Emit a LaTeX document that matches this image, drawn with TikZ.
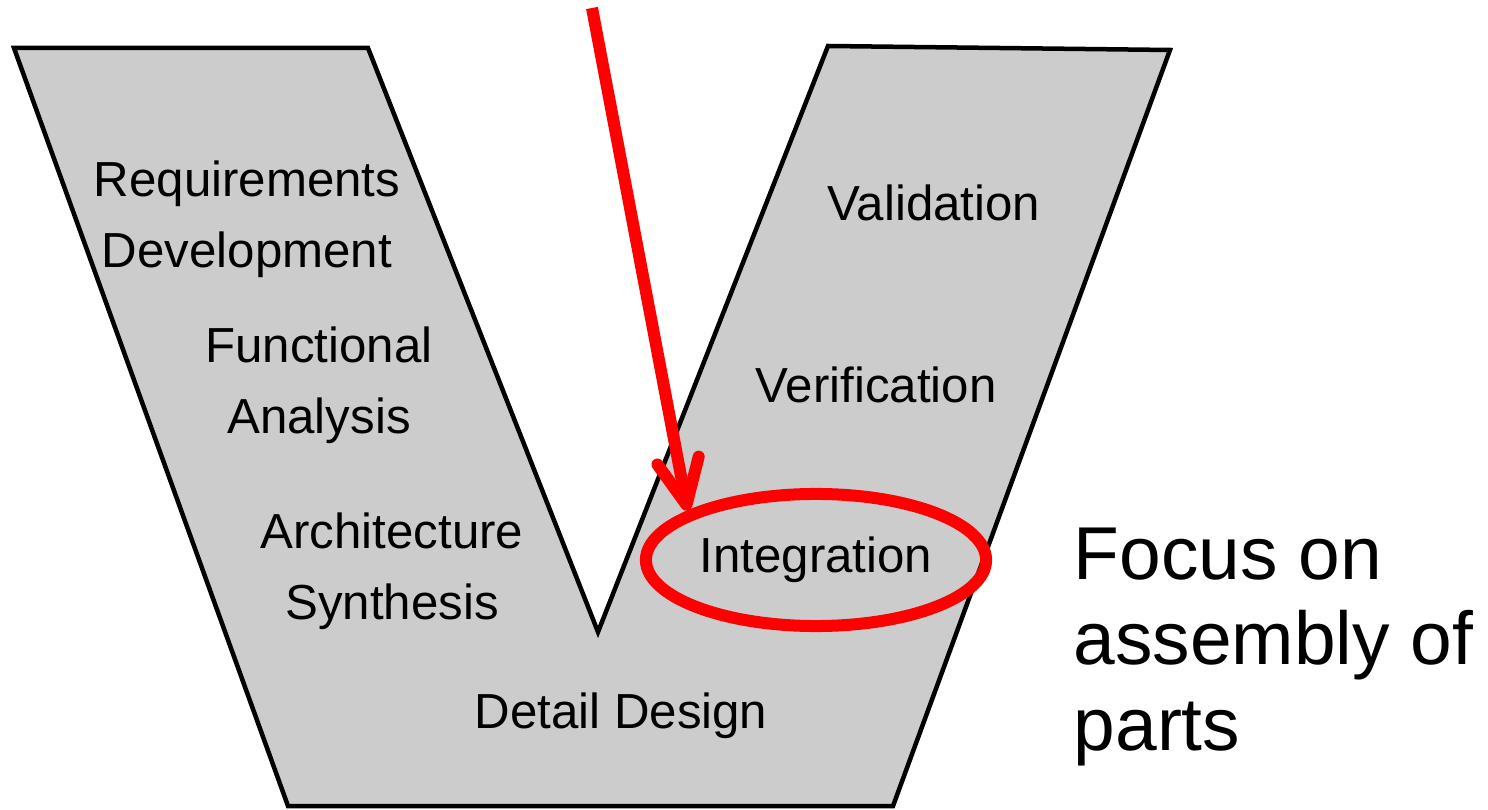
\documentclass[tikz,border=0pt]{standalone}
\usepackage{fontspec}
\setmainfont{Liberation Sans}
\usepackage{xcolor}
\usepackage{tikz}
\usetikzlibrary{arrows.meta,positioning,shapes.geometric,calc}
\definecolor{vGrey}{RGB}{204,204,204}
\definecolor{vRed}{RGB}{255,0,0}
\tikzset{
phase/.style={align=center,inner sep=0pt,font=\fontsize{14}{20.3}\selectfont},
focusring/.style={ellipse,draw=vRed,line width=0.12cm,minimum width=3.4cm,minimum height=1.32cm,inner sep=0pt,font=\fontsize{14}{20.3}\selectfont},
pointer/.style={-{Straight Barb[length=0.45cm,width=0.42cm,round]},line width=0.12cm,draw=vRed},
note/.style={align=left,inner sep=0pt,font=\fontsize{21.3}{24.4}\selectfont}
}

\begin{document}
\begin{tikzpicture}[x=0.01cm,y=-0.01cm]
\useasboundingbox (0,0) rectangle (1488,810);
% the V band
\filldraw[fill=vGrey,draw=black,line width=0.045cm] (14,48) -- (368,48) -- (598,632) -- (828,46) -- (1170,50) -- (893,806) -- (288,806) -- cycle;
% left arm, going down
\node[phase] (req) at (247,219) {Requirements\\Development};
\node[phase] (func) at (319,385) {Functional\\Analysis};
\node[phase] (arch) at (392,571) {Architecture\\Synthesis};
\node[phase] (detail) at (621,716) {Detail Design};
% right arm, going up
\node[focusring] (integ) at (816,560) {Integration};
\node[phase] (verif) at (876,385) {Verification};
\node[phase] (valid) at (934,203) {Validation};
\node[note,anchor=west] (focus) at (1073,647) {Focus on\\assembly of\\parts};
\coordinate (top) at (592,8);
\draw[pointer] (top)--(integ.159);
\end{tikzpicture}
\end{document}
